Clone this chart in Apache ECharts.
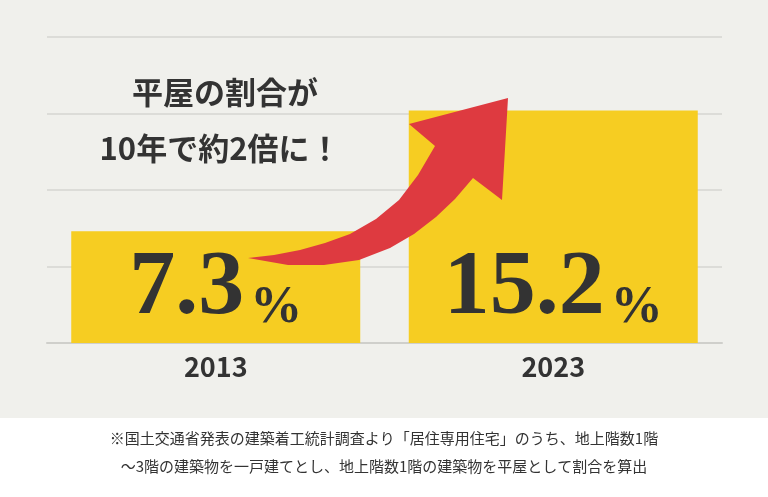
<!DOCTYPE html>
<html><head><meta charset="utf-8">
<script src="https://cdn.jsdelivr.net/npm/echarts@6/dist/echarts.min.js"></script>
<style>html,body{margin:0;padding:0;background:#fff}#c{width:768px;height:497px}</style>
</head><body><div id="c"></div>
<script>
const categories = ['2013', '2023'];
const values = [7.3, 15.2];
const headline = ['平屋の割合が', '10年で約2倍に！'];
const note = ['※国土交通省発表の建築着工統計調査より「居住専用住宅」のうち、地上階数1階', '～3階の建築物を一戸建てとし、地上階数1階の建築物を平屋として割合を算出'];

const arrowPts = [[248,258],[288,265],[324,265],[359,260],[390,248],[414,234],[436,217],[455,199],[473,178],[502,200],[508,98],[409,124],[435,146],[418,175],[399,200],[376,219],[350,234],[325,243],[300,250],[274,255]];

const chart = echarts.init(document.getElementById('c'));
chart.setOption({
  animation: false,
  backgroundColor: '#ffffff',
  grid: {left: 47, right: 46, top: 37, bottom: 154},
  xAxis: {
    type: 'category', data: categories,
    axisLine: {lineStyle: {color: '#cfcfcb', width: 2}},
    axisTick: {show: false},
    axisLabel: {margin: 10, fontSize: 27, fontWeight: 'bold', color: '#333', fontFamily: 'Noto Sans CJK JP'}
  },
  yAxis: {
    type: 'value', min: 0, max: 20, interval: 5,
    axisLabel: {show: false}, axisLine: {show: false}, axisTick: {show: false},
    splitLine: {lineStyle: {color: '#dcdcd8', width: 2}}
  },
  graphic: [
    {type: 'rect', z: -10, silent: true, shape: {x: 0, y: 0, width: 768, height: 418}, style: {fill: '#f0f0ec'}},
    {type: 'polygon', z: 100, shape: {points: arrowPts}, style: {fill: '#de3a40'}},
    {type: 'text', z: 101, x: 225, y: 92, style: {text: headline[0], align: 'center', verticalAlign: 'middle', fontSize: 31, fontWeight: 'bold', fill: '#333', fontFamily: 'Noto Sans CJK JP'}},
    {type: 'text', z: 101, x: 220, y: 148, style: {text: headline[1], align: 'center', verticalAlign: 'middle', fontSize: 31, fontWeight: 'bold', fill: '#333', fontFamily: 'Noto Sans CJK JP'}},
    {type: 'text', x: 384, y: 438, style: {text: note[0], align: 'center', verticalAlign: 'middle', fontSize: 15, fill: '#333', fontFamily: 'Noto Sans CJK JP'}},
    {type: 'text', x: 384, y: 466, style: {text: note[1], align: 'center', verticalAlign: 'middle', fontSize: 15, fill: '#333', fontFamily: 'Noto Sans CJK JP'}}
  ],
  series: [{
    type: 'bar', data: values, barWidth: 289, z: 2,
    itemStyle: {color: '#f6cd22'},
    label: {
      show: true, position: 'insideBottom', distance: 8,
      formatter: p => '{n|' + p.value + '}{p|%}',
      rich: {
        n: {fontSize: 92, fontWeight: 'bold', color: '#333', fontFamily: 'Liberation Sans Narrow', lineHeight: 92},
        p: {fontSize: 52, fontWeight: 'bold', color: '#333', fontFamily: 'Liberation Sans Narrow', padding: [0, 0, 0, 6], verticalAlign: 'bottom'}
      }
    }
  }]
});
</script></body></html>
